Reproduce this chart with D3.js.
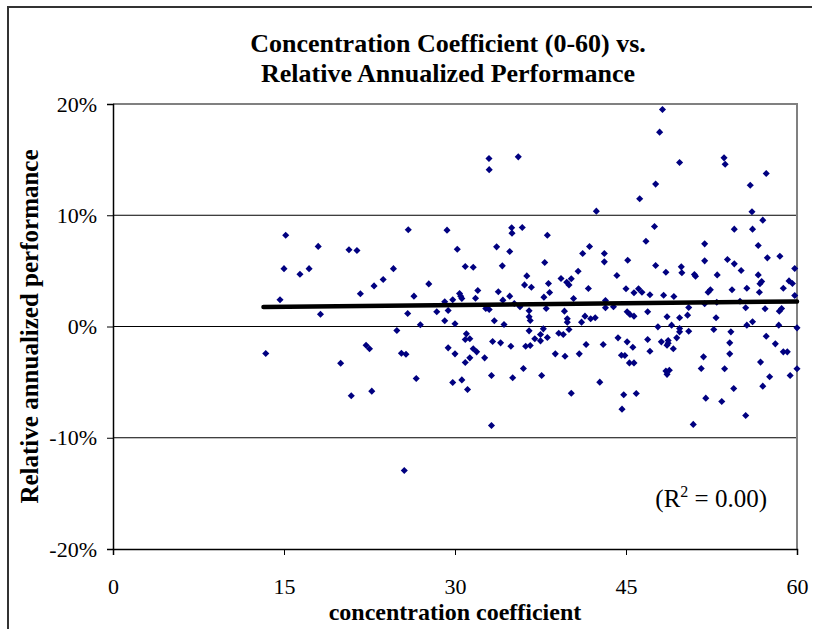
<!DOCTYPE html>
<html>
<head>
<meta charset="utf-8">
<script src="https://cdn.jsdelivr.net/npm/d3@7"></script>
<style>
  body { margin: 0; background: #fff; }
  text { font-family: "Liberation Serif", "Times New Roman", serif; fill: #000; }
</style>
</head>
<body>
<div id="vis"></div>
<script>
// concentration coefficient (x) and relative annualized performance in % (y)
var coef = [
  15.15, 18.0, 15.0, 16.4, 17.2, 14.65, 18.2, 13.4,
  32.98, 33.0, 35.55, 25.9, 29.3, 34.97, 35.0, 35.9, 38.1, 20.7, 21.4, 30.2,
  33.65, 34.8, 24.6, 30.9, 31.6, 34.15, 37.87, 23.7, 22.9, 21.7,
  27.7, 26.4, 36.3, 36.1, 36.7, 38.2, 38.3, 37.8, 30.4, 30.6,
  30.5, 32.0, 31.8, 33.8, 34.8,
  34.2, 29.8, 29.1, 28.4, 29.4, 25.85, 32.7, 33.0, 35.2, 35.7,
  36.5, 36.5, 36.6, 38.0, 29.1, 30.0, 26.96, 24.9, 33.45, 34.3,
  36.5, 37.75, 31.0, 30.9, 31.3, 33.3, 34.0, 29.4, 31.6, 31.9,
  34.9, 36.2, 36.6, 37.0, 37.5, 37.5, 38.1, 39.1, 22.2, 22.5,
  19.97, 20.9, 22.7, 25.3, 25.7, 26.6, 25.55, 30.0, 29.8, 30.6,
  31.1, 30.9, 31.3, 32.6, 33.2, 33.2, 35.06, 36.0, 37.6, 38.8,
  48.2, 47.95, 49.7, 53.6, 53.7, 57.3, 55.9, 47.6, 46.2, 42.4,
  56.05, 57.0, 47.5, 54.5, 56.1, 46.75, 56.6, 51.9, 41.8, 41.2,
  43.1, 43.1, 45.15, 47.6, 48.5, 51.9, 53.9, 54.5, 55.1, 58.5,
  57.4, 59.8, 40.8, 44.2, 49.85, 49.9, 51.0, 51.1, 53.0, 56.6,
  56.9, 56.75, 59.3, 59.6, 39.3, 39.8, 40.0, 40.2, 40.4, 41.7,
  45.0, 45.7, 46.1, 46.4, 47.1, 48.3, 49.2, 52.2, 52.4, 54.3,
  55.6, 56.7, 58.8, 59.8,
  43.2, 43.2, 43.9, 55.0, 51.9, 52.96, 50.5, 49.7, 50.4, 48.6,
  46.9, 45.1, 45.35, 45.7, 47.8, 49.0, 49.7, 49.7, 50.5, 52.9,
  52.7, 55.5, 57.2, 58.45, 58.65, 56.1, 55.6, 58.4, 60.0, 54.2,
  54.1, 54.1, 51.8, 57.3, 58.1, 58.8, 59.15, 49.45, 48.7, 48.6,
  48.1, 49.15, 47.1, 46.9, 45.6, 45.1, 44.6, 44.9, 39.6, 39.85,
  39.85, 40.0, 39.5, 39.65, 40.2, 40.9, 41.5, 41.1, 41.4, 41.9,
  42.3, 43.0, 42.7, 44.3, 45.3, 45.7, 44.8, 44.65, 45.9, 48.5,
  48.8, 48.6, 50.9, 51.6, 52.0, 53.4, 53.65, 54.45, 55.5, 56.8,
  57.0, 57.6, 59.4, 60.0, 48.7
];
var perf = [
  8.2, 7.2, 5.2, 4.7, 5.2, 2.4, 1.1, -2.43,
  15.1, 14.1, 15.25, 8.7, 8.66, 8.87, 8.39, 8.9, 8.2, 6.9, 6.83, 6.95,
  7.16, 6.74, 5.2, 5.39, 5.33, 5.45, 5.75, 4.22, 3.65, 2.94,
  3.83, 2.73, 4.55, 3.74, 3.53, 3.87, 3.06, 2.64, 2.97, 2.52,
  2.73, 3.24, 2.54, 3.12, 2.73,
  2.37, 2.4, 2.22, 1.32, 1.44, 1.17, 1.62, 1.53, 2.07, 1.77,
  1.41, 0.87, 0.54, 1.62, 0.51, 0.24, 0.15, -0.36, 0.51, 0.18,
  -0.39, -0.21, -0.66, -1.17, -1.1, -1.35, -1.47, -1.92, -2.0, -2.28,
  -1.77, -1.77, -1.71, -1.1, -0.72, -1.29, -0.99, -0.6, -1.68, -2.0,
  -3.3, -6.23, -5.81, -2.4, -2.5, -4.67, -12.94, -2.46, -5.03, -4.8,
  -5.66, -3.24, -2.82, -2.82, -4.4, -8.9, -4.61, -3.78, -4.4, -2.46,
  19.5, 17.47, 14.74, 15.16, 14.59, 13.75, 12.7, 12.8, 11.48, 10.37,
  10.31, 9.56, 8.99, 8.75, 8.75, 7.67, 7.28, 7.43, 7.19, 6.56,
  6.56, 5.81, 5.96, 5.48, 4.88, 5.9, 6.02, 5.63, 5.03, 6.32,
  6.17, 5.21, 4.97, 4.58, 5.36, 4.83, 4.67, 4.52, 4.64, 4.64,
  4.05, 3.85, 4.1, 3.87, 4.31, 3.98, 3.74, 4.29, 2.52, 3.42,
  3.39, 3.03, 3.39, 3.08, 2.85, 2.81, 2.7, 3.08, 3.3, 3.3,
  3.44, 3.08, 3.44, 2.79,
  2.33, 1.68, 1.77, 2.27, 2.04, 2.18, 1.71, 0.78, 1.02, 0.87,
  1.32, 1.32, 1.08, 0.93, -0.03, 0.12, -0.18, -0.48, -0.42, 0.78,
  -0.27, 1.68, 1.59, 1.38, 1.62, 0.42, 0.12, 0.12, -0.12, -0.48,
  -1.47, -2.46, -2.73, -0.87, -1.56, -2.28, -2.28, -1.02, -1.26, -1.68,
  -1.38, -2.0, -2.22, -1.17, -1.86, -1.38, -2.58, -2.61, 1.38, 0.69,
  0.39, -0.27, -0.72, -2.67, -6.0, -2.46, -1.62, 0.39, 0.93, 0.69,
  0.78, -1.62, -5.0, -1.02, -3.27, -3.27, -6.14, -7.43, -6.02, -4.0,
  -3.93, -4.3, -8.8, -3.78, -6.44, -6.74, -3.8, -5.57, -8.0, -3.2,
  -5.36, -4.52, -4.4, -3.8, -1.5
];

// linear trend line end points
var trendX = [13.2, 60];
var trendY = [1.75, 2.25];

var xTicks = [0, 15, 30, 45, 60];
var yTicks = [-20, -10, 0, 10, 20];
var gridValues = [-10, 0, 10];

var titleLines = ["Concentration Coefficient (0-60) vs.", "Relative Annualized Performance"];
var xTitle = "concentration coefficient";
var yTitle = "Relative annualized performance";
var r2Text = "0.00";

var W = 821, H = 629;
var pLeft = 113, pRight = 797, pTop = 104, pBottom = 549;

var svg = d3.select("#vis").append("svg")
  .attr("width", W)
  .attr("height", H);

// outer chart frame
svg.append("path")
  .attr("d", "M8," + H + "V7H812")
  .attr("fill", "none")
  .attr("stroke", "#333")
  .attr("stroke-width", 2);

var x = d3.scaleLinear().domain([0, 60]).range([pLeft, pRight]);
var y = d3.scaleLinear().domain([-20, 20]).range([pBottom, pTop]);

// gridlines
svg.append("g").selectAll("line")
  .data(gridValues)
  .enter().append("line")
  .attr("x1", pLeft).attr("x2", pRight)
  .attr("y1", function(d) { return y(d); })
  .attr("y2", function(d) { return y(d); })
  .attr("stroke", "#000")
  .attr("stroke-width", 1);

// plot area border (top and right)
svg.append("path")
  .attr("d", "M" + pLeft + "," + pTop + "H" + pRight + "V" + pBottom)
  .attr("fill", "none")
  .attr("stroke", "#808080")
  .attr("stroke-width", 2);

// axes
var yAxis = svg.append("g")
  .attr("transform", "translate(" + pLeft + ",0)")
  .call(d3.axisLeft(y).tickValues(yTicks).tickSize(6).tickPadding(10)
    .tickFormat(function(d) { return d + "%"; }));

var xAxis = svg.append("g")
  .attr("transform", "translate(0," + pBottom + ")")
  .call(d3.axisBottom(x).tickValues(xTicks).tickSize(6).tickPadding(23));

[xAxis, yAxis].forEach(function(a) {
  a.select(".domain").attr("stroke", "#000").attr("stroke-width", 1.5);
  a.selectAll(".tick line").attr("stroke", "#000").attr("stroke-width", 1);
  a.selectAll("text")
    .attr("font-family", "Liberation Serif, Times New Roman, serif")
    .attr("font-size", 22)
    .attr("fill", "#000");
});

// points
svg.append("g").selectAll("path")
  .data(coef)
  .enter().append("path")
  .attr("d", d3.symbol().type(d3.symbolDiamond2).size(32))
  .attr("transform", function(d, i) {
    return "translate(" + x(d) + "," + y(perf[i]) + ")";
  })
  .attr("fill", "#000080");

// trend line
var line = d3.line()
  .x(function(d) { return x(d[0]); })
  .y(function(d) { return y(d[1]); });

svg.append("path")
  .datum(d3.zip(trendX, trendY))
  .attr("d", line)
  .attr("fill", "none")
  .attr("stroke", "#000")
  .attr("stroke-width", 4.5)
  .attr("stroke-linecap", "round");

// titles
svg.append("g").selectAll("text")
  .data(titleLines)
  .enter().append("text")
  .attr("x", 448)
  .attr("y", function(d, i) { return 52 + i * 30; })
  .attr("text-anchor", "middle")
  .attr("font-weight", "bold")
  .attr("font-size", 26)
  .text(function(d) { return d; });

svg.append("text")
  .attr("x", 455)
  .attr("y", 620)
  .attr("text-anchor", "middle")
  .attr("font-weight", "bold")
  .attr("font-size", 24)
  .text(xTitle);

svg.append("text")
  .attr("transform", "translate(38," + ((pTop + pBottom) / 2) + ") rotate(-90)")
  .attr("text-anchor", "middle")
  .attr("font-weight", "bold")
  .attr("font-size", 25)
  .text(yTitle);

// R squared label
var r2 = svg.append("text")
  .attr("x", 767)
  .attr("y", 507)
  .attr("text-anchor", "end")
  .attr("font-size", 25);
r2.append("tspan").text("(R");
r2.append("tspan").attr("dy", -10).attr("font-size", 16).text("2");
r2.append("tspan").attr("dy", 10).text(" = " + r2Text + ")");
</script>
</body>
</html>
